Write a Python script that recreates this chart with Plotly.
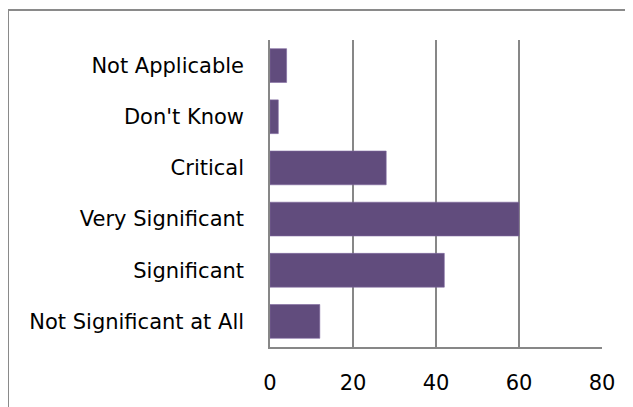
import plotly.graph_objects as go

categories = ["Not Significant at All", "Significant", "Very Significant",
              "Critical", "Don't Know", "Not Applicable"]
values = [12, 42, 60, 28, 2, 4]
x_ticks = [0, 20, 40, 60, 80]

# the page body has an 8px margin, so the figure is placed at (8, 8)
OFF = 8
W, H = 633 - OFF, 407 - OFF
ML, MR, MT, MB = 270 - OFF, 31, 40 - OFF, 60
pw, ph = W - ML - MR, H - MT - MB

def px_x(p):
    return (p - OFF - ML) / pw

def px_y(p):
    return (H - MB - (p - OFF)) / ph

grid = "#878787"
font = dict(family="DejaVu Sans", size=21, color="#000000")

fig = go.Figure(go.Bar(
    y=categories, x=values, orientation="h",
    marker=dict(color="#614C7D", line=dict(color="#7F68A0", width=0.6)),
))

fig.update_layout(
    width=W, height=H,
    margin=dict(l=ML, r=MR, t=MT, b=MB),
    paper_bgcolor="white", plot_bgcolor="white",
    bargap=0.34,
    showlegend=False,
    font=font,
    xaxis=dict(range=[0, 80], tickvals=x_ticks, showgrid=True, gridcolor=grid,
               gridwidth=1.5, showline=True, linecolor=grid, linewidth=1.5,
               zeroline=False, ticks="", ticklabelstandoff=16, tickfont=font,
               fixedrange=True),
    yaxis=dict(showline=True, linecolor=grid, linewidth=1.5, showgrid=False,
               ticks="", ticklabelstandoff=20, tickfont=font, fixedrange=True),
    shapes=[dict(type="rect", xref="paper", yref="paper",
                 x0=px_x(8), x1=px_x(660), y0=px_y(430), y1=px_y(10),
                 line=dict(color="#8A8A8A", width=2), layer="below")],
)

fig.write_html("out.html", config={"displayModeBar": False})
